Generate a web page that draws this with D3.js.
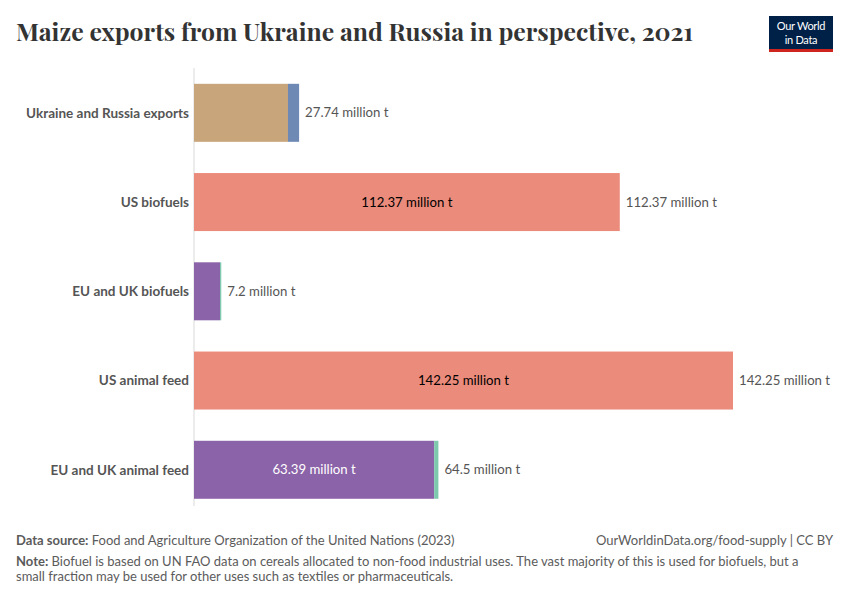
<!DOCTYPE html>
<html><head><meta charset="utf-8">
<script src="https://cdn.jsdelivr.net/npm/d3@7"></script>
<style>body{margin:0;background:#fff}svg{display:block}</style>
</head><body>
<svg id="chart" width="850" height="600"></svg>
<script>
const categories = ["Ukraine and Russia exports","US biofuels","EU and UK biofuels","US animal feed","EU and UK animal feed"];
const seriesNames = ["Ukraine","Russia","United States","European Union","United Kingdom"];
const ukraine       = [24.80, 0, 0, 0, 0];
const russia        = [2.94, 0, 0, 0, 0];
const unitedStates  = [0, 112.37, 0, 142.25, 0];
const europeanUnion = [0, 0, 6.87, 0, 63.39];
const unitedKingdom = [0, 0, 0.33, 0, 1.11];
const totals        = [27.74, 112.37, 7.2, 142.25, 64.5];
const seriesColors  = ["#C8A57B","#6F89B5","#EB8B7B","#8B63A8","#7DC9AE"];
const insideText    = ["#000","#fff","#000","#fff","#000"];

const svg = d3.select("#chart");
const font = "Lato, 'Noto Sans', sans-serif";

const rows = categories.map((c,i)=>({cat:c, Ukraine:ukraine[i], Russia:russia[i], "United States":unitedStates[i], "European Union":europeanUnion[i], "United Kingdom":unitedKingdom[i], total:totals[i]}));
const stack = d3.stack().keys(seriesNames)(rows);

const x = d3.scaleLinear().domain([0, d3.max(totals)]).range([194, 733]);
const y = d3.scaleBand().domain(categories).range([68.2, 514.4]).paddingInner(0.35).paddingOuter(0.175);

// title
svg.append("text").attr("x",16).attr("y",41)
  .attr("font-family","'Playfair Display', 'DejaVu Serif', serif")
  .attr("font-size",24).attr("font-weight",700).attr("fill","#333")
  .attr("textLength",677).attr("lengthAdjust","spacingAndGlyphs")
  .text("Maize exports from Ukraine and Russia in perspective, 2021");

// logo
const logo = svg.append("g");
logo.append("rect").attr("x",769).attr("y",16).attr("width",64).attr("height",33).attr("fill","#002147");
logo.append("rect").attr("x",769).attr("y",49).attr("width",64).attr("height",3).attr("fill","#CE261E");
logo.append("text").attr("x",801).attr("y",30).attr("text-anchor","middle").attr("font-family",font).attr("font-size",11).attr("fill","#fff").attr("letter-spacing",-0.3).text("Our World");
logo.append("text").attr("x",801).attr("y",44).attr("text-anchor","middle").attr("font-family",font).attr("font-size",11).attr("fill","#fff").attr("letter-spacing",-0.3).text("in Data");

// axis line
svg.append("line").attr("x1",x(0)).attr("x2",x(0)).attr("y1",68).attr("y2",506).attr("stroke","#d9d9d9").attr("stroke-width",1);

// bars
stack.forEach((s,si)=>{
  const g = svg.append("g");
  s.forEach((d,i)=>{
    const w = x(d[1]) - x(d[0]);
    if (w <= 0) return;
    g.append("rect").attr("x",x(d[0])).attr("y",y(categories[i])).attr("width",w).attr("height",y.bandwidth()).attr("fill",seriesColors[si]);
    const val = d[1]-d[0];
    const label = (+val.toFixed(2)) + " million t";
    const t = g.append("text").attr("x",(x(d[0])+x(d[1]))/2).attr("y",y(categories[i])+y.bandwidth()/2).attr("dy","0.35em")
      .attr("text-anchor","middle").attr("font-family",font).attr("font-size",13.2).attr("fill",insideText[si]).text(label);
    const tw = t.node().getComputedTextLength();
    if (tw + 20 > w) t.remove();
  });
});

// category labels
svg.append("g").selectAll("text").data(categories).join("text")
  .attr("x",189).attr("y",d=>y(d)+y.bandwidth()/2).attr("dy","0.35em").attr("text-anchor","end")
  .attr("font-family",font).attr("font-size",13.5).attr("font-weight",700).attr("fill","#555").text(d=>d);

// total labels
svg.append("g").selectAll("text").data(rows).join("text")
  .attr("x",d=>x(d.total)+6).attr("y",d=>y(d.cat)+y.bandwidth()/2).attr("dy","0.35em")
  .attr("font-family",font).attr("font-size",13.2).attr("fill","#555").text(d=>(+d.total.toFixed(2))+" million t");

// footer
const foot = svg.append("g").attr("font-family",font).attr("font-size",13).attr("fill","#5b5b5b");
const t1 = foot.append("text").attr("x",16).attr("y",545);
t1.append("tspan").attr("font-weight",700).text("Data source:");
t1.append("tspan").text(" Food and Agriculture Organization of the United Nations (2023)");
foot.append("text").attr("x",833).attr("y",545).attr("text-anchor","end").text("OurWorldinData.org/food-supply | CC BY");
const t2 = foot.append("text").attr("x",16).attr("y",566);
t2.append("tspan").attr("font-weight",700).text("Note:");
t2.append("tspan").text(" Biofuel is based on UN FAO data on cereals allocated to non-food industrial uses. The vast majority of this is used for biofuels, but a");
foot.append("text").attr("x",16).attr("y",581).text("small fraction may be used for other uses such as textiles or pharmaceuticals.");
</script>
</body></html>
